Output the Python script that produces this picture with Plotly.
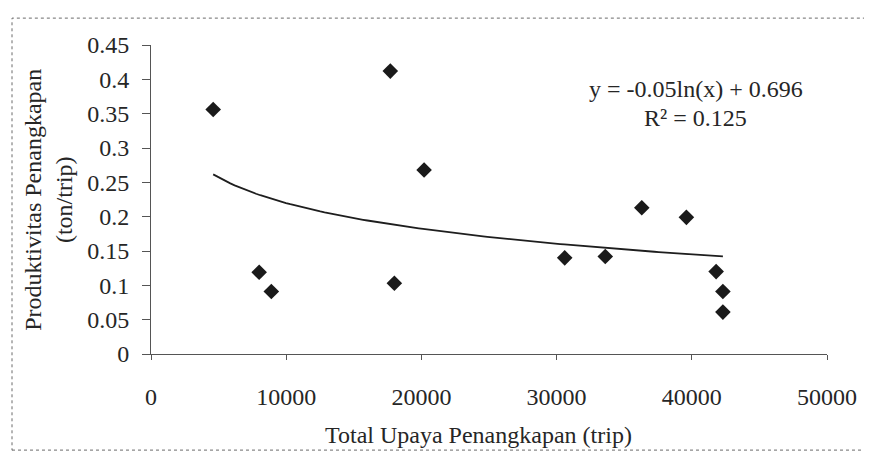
import numpy as np
import plotly.graph_objects as go

# effort (trip) and productivity (ton/trip)
effort_trip = [4600, 8000, 8900, 17700, 18000, 20200, 30600, 33600, 36300, 39600, 41800, 42300, 42300]
productivity = [0.356, 0.119, 0.091, 0.412, 0.103, 0.268, 0.140, 0.142, 0.213, 0.199, 0.120, 0.091, 0.061]

x_ticks = [0, 10000, 20000, 30000, 40000, 50000]
x_tick_text = ["0", "10000", "20000", "30000", "40000", "50000"]
y_ticks = [0, 0.05, 0.1, 0.15, 0.2, 0.25, 0.3, 0.35, 0.4, 0.45]
y_tick_text = ["0", "0.05", "0.1", "0.15", "0.2", "0.25", "0.3", "0.35", "0.4", "0.45"]

equation_text = "y = -0.05ln(x) + 0.696"
r2_text = "R² = 0.125"

FONT = "Liberation Serif, Times New Roman, serif"
INK = "#262626"

# logarithmic trend line, fitted like Excel does
slope, intercept = np.polyfit(np.log(effort_trip), productivity, 1)
trend_x = np.linspace(min(effort_trip), max(effort_trip), 120)
trend_y = slope * np.log(trend_x) + intercept

fig = go.Figure()
fig.add_trace(
    go.Scatter(
        x=trend_x,
        y=trend_y,
        mode="lines",
        line={"color": "#1e1e1e", "width": 1.8},
        hoverinfo="skip",
    )
)
fig.add_trace(
    go.Scatter(
        x=effort_trip,
        y=productivity,
        mode="markers",
        marker={"symbol": "diamond", "size": 12, "color": "#1a1a1a"},
        hovertemplate="%{x}<br>%{y}<extra></extra>",
    )
)

# the page body keeps an 8px margin, so the figure is 8px smaller
fig.update_layout(
    width=864,
    height=453,
    margin={"l": 143, "r": 45, "t": 37, "b": 107},
    paper_bgcolor="white",
    plot_bgcolor="white",
    showlegend=False,
    font={"family": FONT, "size": 24, "color": INK},
    xaxis={
        "range": [0, 50000],
        "tickvals": x_ticks,
        "ticktext": x_tick_text,
        "showgrid": False,
        "zeroline": False,
        "showline": True,
        "linecolor": "#555",
        "linewidth": 1,
        "ticks": "outside",
        "ticklen": 5,
        "tickcolor": "#555",
        "ticklabelstandoff": 16,
    },
    yaxis={
        "range": [0, 0.45],
        "tickvals": y_ticks,
        "ticktext": y_tick_text,
        "showgrid": False,
        "zeroline": False,
        "showline": True,
        "linecolor": "#555",
        "linewidth": 1,
        "ticks": "outside",
        "ticklen": 8,
        "tickcolor": "#555",
        "ticklabelstandoff": 8,
    },
)

fig.add_annotation(
    text=equation_text, xref="paper", yref="paper", x=0.806, y=0.858,
    xanchor="center", yanchor="middle", showarrow=False, font={"size": 24},
)
fig.add_annotation(
    text=r2_text, xref="paper", yref="paper", x=0.806, y=0.764,
    xanchor="center", yanchor="middle", showarrow=False, font={"size": 24},
)
fig.add_annotation(
    text="Total Upaya Penangkapan (trip)", xref="paper", yref="paper",
    x=0.484, y=-0.262, xanchor="center", yanchor="middle",
    showarrow=False, font={"size": 24},
)
fig.add_annotation(
    text="Produktivitas Penangkapan<br>(ton/trip)", xref="paper", yref="paper",
    x=-0.152, y=0.5, xanchor="center", yanchor="middle", textangle=-90,
    showarrow=False, font={"size": 24},
)

# dotted chart-area border like the scanned Excel frame
fig.add_shape(
    type="rect", xref="paper", yref="paper",
    x0=-0.2056, x1=1.065, y0=-0.311, y1=1.087,
    line={"color": "#6a6a6a", "width": 1, "dash": "dot"},
)

fig.write_html("out.html")
